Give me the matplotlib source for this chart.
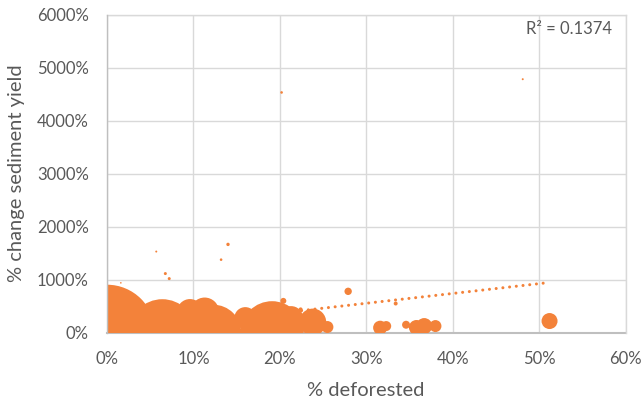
import matplotlib
matplotlib.use("Agg")
import matplotlib.pyplot as plt
from matplotlib.ticker import PercentFormatter
import numpy as np

plt.rcParams['font.family'] = ['Lato', 'DejaVu Sans']

# % deforested (fraction)
deforested = [0.000, 0.064, 0.096, 0.113, 0.123, 0.191, 0.160, 0.204, 0.213,
              0.224, 0.238, 0.255, 0.279, 0.334, 0.316, 0.323, 0.346, 0.358,
              0.367, 0.380, 0.512, 0.202, 0.481, 0.057, 0.140, 0.132, 0.0675,
              0.072, 0.016]
# % change sediment yield (fraction)
sediment_change = [0.00, 0.00, 3.90, 3.90, 0.00, 0.00, 2.75, 6.00, 2.75,
                   4.40, 2.00, 1.07, 7.80, 5.50, 0.94, 1.25, 1.50, 0.98,
                   1.25, 1.25, 2.20, 45.30, 47.80, 15.30, 16.65, 13.77, 11.15,
                   10.20, 9.40]
# bubble size (relative, largest = 100)
bubble_size = [100, 48.7, 7.3, 9.1, 34.0, 43.1, 5.25, 0.39, 6.25,
               0.17, 7.9, 1.56, 0.59, 0.17, 2.13, 1.09, 0.69, 2.44,
               2.78, 1.56, 2.78, 0.073, 0.043, 0.043, 0.125, 0.073, 0.098,
               0.098, 0.028]
# linear trendline (y = slope * x + intercept) and its R²
trend_slope = 18.5
trend_intercept = 0.0
r_squared = "R² = 0.1374"

x_ticks = [0, 0.1, 0.2, 0.3, 0.4, 0.5, 0.6]
y_ticks = [0, 10, 20, 30, 40, 50, 60]

orange = '#F3823A'
text_gray = '#595959'
grid_gray = '#D9D9D9'
axis_gray = '#BFBFBF'

fig = plt.figure(figsize=(6.43, 4.03), dpi=100)
ax = fig.add_axes([107/643, 1 - 332.7/403, (625.3 - 106.7)/643, (332.7 - 14.5)/403])

sizes = np.array(bubble_size) * 47.77
ax.scatter(deforested, sediment_change, s=sizes, color=orange, edgecolors='none',
           zorder=3, clip_on=True)

tx = np.array([min(deforested), max(deforested)])
ax.plot(tx, trend_slope * tx + trend_intercept, color=orange, lw=2.2,
        linestyle=(0, (0.01, 2.2)), dash_capstyle='round', zorder=4)

ax.set_xlim(0, 0.6)
ax.set_ylim(0, 60)
ax.set_xticks(x_ticks)
ax.set_yticks(y_ticks)
ax.xaxis.set_major_formatter(PercentFormatter(1.0, decimals=0))
ax.yaxis.set_major_formatter(PercentFormatter(1.0, decimals=0))
ax.grid(True, color=grid_gray, lw=1.0, zorder=0)
ax.set_axisbelow(True)
ax.tick_params(axis='both', length=0, labelsize=12, labelcolor=text_gray)
ax.tick_params(axis='y', pad=13)
ax.tick_params(axis='x', pad=13)
for side in ['top', 'right']:
    ax.spines[side].set_color(grid_gray)
    ax.spines[side].set_linewidth(1.0)
ax.spines['left'].set_color(axis_gray)
ax.spines['bottom'].set_color(axis_gray)
ax.spines['left'].set_linewidth(1.0)
ax.spines['bottom'].set_linewidth(1.5)
ax.spines['left'].set_zorder(5)
ax.spines['bottom'].set_zorder(2)

ax.text(0.974, 0.955, r_squared, transform=ax.transAxes, ha='right', va='center',
        fontsize=12, color=text_gray)

fig.text(366/643, 1 - 396/403, '% deforested', ha='center', va='baseline',
         fontsize=14.5, color=text_gray)
fig.text(16.5/643, 1 - 173/403, '% change sediment yield', ha='center', va='center',
         rotation=90, fontsize=14.5, color=text_gray)

fig.savefig('out.png', dpi=100)
